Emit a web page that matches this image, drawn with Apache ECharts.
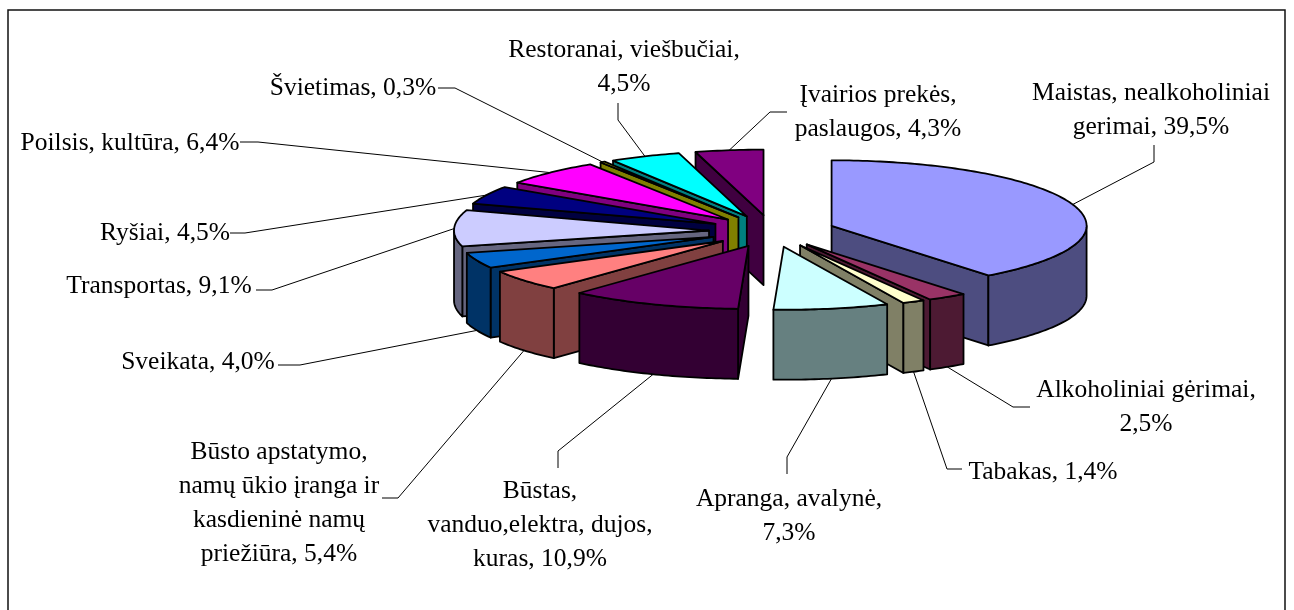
<!DOCTYPE html>
<html>
<head>
<meta charset="utf-8">
<style>html,body{margin:0;padding:0;background:#fff}#chart{width:1294px;height:610px}</style>
<script src="https://cdn.jsdelivr.net/npm/echarts@6/dist/echarts.min.js"></script>
</head>
<body>
<div id="chart"></div>
<script>
// values in percent, clockwise from the top
const categories = ['Maistas, nealkoholiniai gėrimai', 'Alkoholiniai gėrimai', 'Tabakas', 'Apranga, avalynė',
  'Būstas, vanduo,elektra, dujos, kuras', 'Būsto apstatymo, namų ūkio įranga ir kasdieninė namų priežiūra',
  'Sveikata', 'Transportas', 'Ryšiai', 'Poilsis, kultūra', 'Švietimas', 'Restoranai, viešbučiai', 'Įvairios prekės, paslaugos']
const values = [39.5, 2.5, 1.4, 7.3, 10.9, 5.4, 4.0, 9.1, 4.5, 6.4, 0.3, 4.5, 4.3]
const labelTexts = ['Maistas, nealkoholiniai\ngerimai, 39,5%', 'Alkoholiniai gėrimai,\n2,5%', 'Tabakas, 1,4%', 'Apranga, avalynė,\n7,3%',
  'Būstas,\nvanduo,elektra, dujos,\nkuras, 10,9%', 'Būsto apstatymo,\nnamų ūkio įranga ir\nkasdieninė namų\npriežiūra, 5,4%',
  'Sveikata, 4,0%', 'Transportas, 9,1%', 'Ryšiai, 4,5%', 'Poilsis, kultūra, 6,4%', 'Švietimas, 0,3%', 'Restoranai, viešbučiai,\n4,5%', 'Įvairios prekės,\npaslaugos, 4,3%']
const topColors = ['#9999FF', '#993366', '#FFFFCC', '#CCFFFF', '#660066', '#FF8080', '#0066CC', '#CCCCFF', '#000080', '#FF00FF', '#FFFF00', '#00FFFF', '#800080']
const wallColors = ['#4D4D80', '#4D1A33', '#808066', '#668080', '#330033', '#804040', '#003366', '#666680', '#000040', '#800080', '#808000', '#008080', '#400040']

// label centres and the bend points of their leader lines
const labelCenters = [[1151, 110], [1146, 407], [1043, 472], [789, 516], [540, 525], [279, 503], [198, 362], [159, 286], [165, 233], [130, 143], [353, 88], [624, 67], [878, 112]]
const leaderBends = [
  [[1154, 162], [1154, 145]], [[1013, 407], [1030, 407]], [[947, 469], [962, 469]], [[787, 457], [787, 474]],
  [[558, 451], [558, 468]], [[398, 498], [382, 498]], [[300, 365], [278, 365]], [[272, 290], [256, 290]],
  [[245, 233], [230, 233]], [[258, 142], [240, 142]], [[455, 88], [438, 88]], [[618, 120], [618, 103]], [[770, 112], [787, 112]]
]

const cx = 772, cy = 231, rx = 255, ryBack = 65.5, ryFront = 63, depth = 70, explodeX = 63, explodeY = 16
const rad = d => d * Math.PI / 180

const total = values.reduce((a, b) => a + b, 0)
let acc = 0
const slices = values.map((v, i) => {
  const s = { index: i, a0: acc / total * 360, a1: (acc + v) / total * 360 }
  acc += v
  s.mid = (s.a0 + s.a1) / 2
  s.tip = [cx + explodeX * Math.sin(rad(s.mid)), cy - explodeY * Math.cos(rad(s.mid))]
  return s
})
const rim = (s, a) => {
  const c = Math.cos(rad(a))
  return [s.tip[0] + rx * Math.sin(rad(a)), s.tip[1] - (c > 0 ? ryBack : ryFront) * c]
}
const down = p => [p[0], p[1] + depth]
const arc = (s, from, to) => {
  const pts = []
  for (let a = from; a < to; a += 1) pts.push(rim(s, a))
  pts.push(rim(s, to))
  return pts
}

// back slices first so the front ones cover them
const drawOrder = slices.slice().sort((p, q) => p.tip[1] - q.tip[1])

const line = { stroke: '#000', lineWidth: 1.8, lineJoin: 'round' }
const renderSlice = (params, api) => {
  const s = slices[api.value(0)]
  const top = topColors[s.index], wall = wallColors[s.index]
  const children = []
  const addPoly = (points, fill) => children.push({ type: 'polygon', shape: { points }, style: { fill, ...line } })
  // radial faces, only when turned to the viewer
  if (Math.sin(rad(s.a0)) < 0) {
    const e = rim(s, s.a0)
    addPoly([s.tip, e, down(e), down(s.tip)], wall)
  }
  if (Math.sin(rad(s.a1)) > 0) {
    const e = rim(s, s.a1)
    addPoly([s.tip, e, down(e), down(s.tip)], wall)
  }
  const from = Math.max(s.a0, 90), to = Math.min(s.a1, 270)
  if (to > from) {
    const outer = arc(s, from, to)
    addPoly(outer.concat(outer.slice().reverse().map(down)), wall)
  }
  addPoly([s.tip].concat(arc(s, s.a0, s.a1)), top)
  return { type: 'group', children }
}

const graphics = [{
  type: 'rect', z: 0,
  shape: { x: 8, y: 10, width: 1277, height: 620 },
  style: { fill: '#fff', stroke: '#111', lineWidth: 1.5 }
}]
slices.forEach(s => {
  let start = rim(s, s.mid)
  if (Math.cos(rad(s.mid)) < -0.1) start = down(start)
  graphics.push({
    type: 'polyline', z: 1,
    shape: { points: [start].concat(leaderBends[s.index]) },
    style: { fill: null, stroke: '#000', lineWidth: 1 }
  })
  graphics.push({
    type: 'text', z: 3,
    x: labelCenters[s.index][0], y: labelCenters[s.index][1],
    style: {
      text: labelTexts[s.index], fill: '#000', align: 'center', verticalAlign: 'middle',
      font: '25.5px "Liberation Serif"', lineHeight: 34
    }
  })
})

const chart = echarts.init(document.getElementById('chart'))
chart.setOption({
  animation: false,
  backgroundColor: '#fff',
  graphic: { elements: graphics },
  series: [{
    type: 'custom',
    coordinateSystem: 'none',
    z: 2,
    silent: true,
    clip: false,
    renderItem: renderSlice,
    data: drawOrder.map(s => ({ name: categories[s.index], value: [s.index, values[s.index]] }))
  }]
})
</script>
</body>
</html>
